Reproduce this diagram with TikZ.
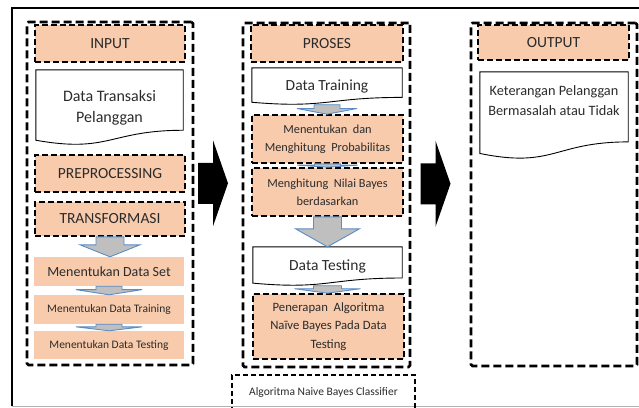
\documentclass[tikz,border=0pt]{standalone}
\usepackage{fontspec}
\setmainfont{Carlito}
\usetikzlibrary{calc,positioning}
\definecolor{peach}{HTML}{F8CBAD}
\definecolor{arrgray}{HTML}{BFBFBF}
\definecolor{arrblue}{HTML}{5B8DC4}
\definecolor{txtgray}{HTML}{2B2B2B}

\newcommand{\docpath}[1]{%
  \draw[line width=0.9pt] (#1.north west) -- (#1.north east) -- ($(#1.north east)!0.802!(#1.south east)$)
    .. controls ($(#1.north)!0.802!(#1.south)$) and ($(#1.north)!1.108!(#1.south)$) .. ($(#1.north west)!0.934!(#1.south west)$) -- cycle;}
\newcommand{\grayarrow}[4]{%
  \draw[arrblue, fill=arrgray, line width=0.9pt] let \p1=(#1.south), \p2=(#2.north) in
    (\x1-#3pt,\y1) -- (\x1+#3pt,\y1) -- (\x1+#3pt,{0.6*\y1+0.4*\y2}) -- (\x1+#4pt,{0.6*\y1+0.4*\y2}) -- (\x1,\y2)
    -- (\x1-#4pt,{0.6*\y1+0.4*\y2}) -- (\x1-#3pt,{0.6*\y1+0.4*\y2}) -- cycle;}
\newcommand{\bigarrow}[2]{%
  \fill let \p1=($(#1.east)!0.5!(#2.west)$) in
    (\x1-20pt,\y1+31.5pt) -- (\x1-5pt,\y1+31.5pt) -- (\x1-5pt,\y1+54pt) -- (\x1+10pt,\y1+11pt)
    -- (\x1-5pt,\y1-32pt) -- (\x1-5pt,\y1-9.5pt) -- (\x1-20pt,\y1-9.5pt) -- cycle;}

\begin{document}
\begin{tikzpicture}[x=1pt,y=-1pt,
    every node/.style={text=txtgray, inner sep=0pt, align=center},
    col/.style={draw, line width=2.6pt, dash pattern=on 8pt off 4pt, rounded corners=1.5pt, minimum width=166pt, minimum height=343pt},
    hd/.style={draw, fill=peach, line width=1.6pt, dash pattern=on 6pt off 3pt, minimum width=150pt, minimum height=37pt, font=\fontsize{15.5}{18}\selectfont},
    pd/.style={hd, minimum width=151pt, minimum height=48pt, font=\fontsize{12.3}{18}\selectfont},
    pk/.style={fill=peach, minimum width=150pt, minimum height=29pt, font=\fontsize{11.5}{14}\selectfont},
    doc/.style={minimum width=150pt, font=\fontsize{15.5}{18}\selectfont}]
  \useasboundingbox (0,0) rectangle (639,407);
  \draw[line width=1.5pt] (12,406) -- (12,8) -- (650,8);
  \draw[gray!60, line width=1pt] (12,406) -- (650,406);

  \node[col] (inp) at (110,193.5) {};
  \node[col, minimum width=167pt, minimum height=344pt] (pro) at (326.5,195) {};
  \node[col] (out) at (554,194.5) {};

  \node[hd] (inhd) at (110,43.5) {INPUT};
  \node[doc, minimum width=147pt, minimum height=75pt, font=\fontsize{16}{21}\selectfont] (indoc) at (109.5,107.5) {Data Transaksi\\Pelanggan};
  \docpath{indoc}
  \node[hd] (prep) at (110,173.5) {PREPROCESSING};
  \node[hd, minimum height=34pt] (trans) at (110,219) {TRANSFORMASI};
  \node[pk, font=\fontsize{14}{16}\selectfont] (dset) at (109,271.5) {Menentukan Data Set};
  \node[pk] (dtrain) at (109,309.5) {Menentukan Data Training};
  \node[pk, minimum height=28pt] (dtest) at (109,345) {Menentukan Data Testing};
  \grayarrow{trans}{dset}{14}{30}
  \grayarrow{dset}{dtrain}{13}{33}
  \grayarrow{dtrain}{dtest}{13}{33}

  \node[hd, minimum width=152pt] (prhd) at (327,43.5) {PROSES};
  \node[doc, minimum height=36.5pt] (trdoc) at (327,86.25) {Data Training};
  \docpath{trdoc}
  \node[pd] (prob) at (327.5,139) {Menentukan\ \ dan\\Menghitung\ \ Probabilitas};
  \node[pd] (bayes) at (327.5,192) {Menghitung\ \ Nilai Bayes\\berdasarkan};
  \node[doc, minimum width=149pt, minimum height=38.5pt] (tsdoc) at (327.5,266.25) {Data Testing};
  \docpath{tsdoc}
  \node[pd, minimum height=65pt, font=\fontsize{12.7}{18.5}\selectfont] (terap) at (328.5,326.5) {Penerapan\ \ Algoritma\\Naïve Bayes Pada Data\\Testing};
  \grayarrow{trdoc}{prob}{13}{30}
  \grayarrow{prob}{bayes}{13}{30}
  \grayarrow{bayes}{tsdoc}{14}{32}
  \grayarrow{tsdoc}{terap}{14}{33}
  \node[draw, line width=1.3pt, dash pattern=on 5pt off 3pt, minimum width=183pt, minimum height=34pt, font=\fontsize{11.5}{13}\selectfont] (nbc) at (323.5,392) {Algoritma Naive Bayes Classifier};

  \node[hd, minimum width=151pt, minimum height=35pt] (outhd) at (553.5,42.5) {OUTPUT};
  \node[doc, minimum width=148pt, minimum height=87pt] (outdoc) at (554,115.5) {};
  \docpath{outdoc}
  \node[font=\fontsize{14.3}{20}\selectfont, below=14pt of outdoc.north] (outtxt) {Keterangan Pelanggan\\Bermasalah atau Tidak};

  \bigarrow{inp}{pro}
  \bigarrow{pro}{out}
\end{tikzpicture}
\end{document}
